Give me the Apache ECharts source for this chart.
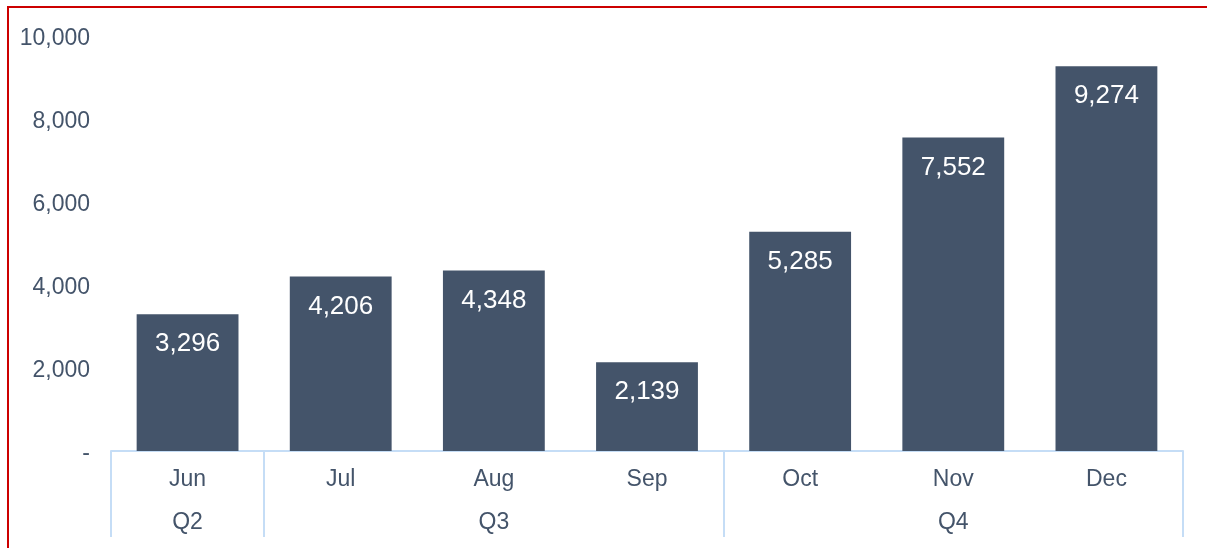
<!DOCTYPE html>
<html>
<head>
<meta charset="utf-8">
<script src="https://cdn.jsdelivr.net/npm/echarts@6/dist/echarts.min.js"></script>
<style>
html,body{margin:0;padding:0;overflow:hidden;background:#fff;}
#frame{position:absolute;left:7px;top:6px;width:1220px;height:560px;border:2px solid #CC0000;box-sizing:border-box;z-index:5;pointer-events:none;}
#chart{position:absolute;left:0;top:0;width:1207px;height:548px;}
</style>
</head>
<body>
<div id="chart"></div>
<div id="frame"></div>
<script>
const months = ['Jun','Jul','Aug','Sep','Oct','Nov','Dec'];
const values = [3296, 4206, 4348, 2139, 5285, 7552, 9274];
const quarters = ['Q2','Q3','Q4'];
const quarterCenters = [0.5, 2.5, 5.5];
const quarterBounds = [0, 1, 4, 7];

const textColor = '#44546A';
const lineColor = '#C5DDF6';
const font = 'Liberation Sans, Arial, sans-serif';

const chart = echarts.init(document.getElementById('chart'), null, {renderer:'canvas'});
chart.setOption({
  animation:false,
  grid:{left:111, right:24, top:36, bottom:97, containLabel:false},
  xAxis:[{
    type:'category',
    data:months,
    position:'bottom',
    axisLine:{show:true, lineStyle:{color:lineColor, width:2}},
    axisTick:{show:false},
    axisLabel:{color:textColor, fontSize:23, fontFamily:font, margin:17}
  },{
    type:'value',
    min:0, max:quarterBounds[quarterBounds.length-1],
    position:'bottom',
    axisLine:{show:false},
    splitLine:{show:false},
    axisTick:{show:true, customValues:quarterBounds, length:86, lineStyle:{color:lineColor, width:2}},
    axisLabel:{show:true, customValues:quarterCenters, margin:60, color:textColor, fontSize:23, fontFamily:font,
      formatter:function(v){ const i = quarterCenters.indexOf(v); return i>=0 ? quarters[i] : ''; }}
  }],
  yAxis:{
    type:'value',
    min:0, max:10000, interval:2000,
    axisLine:{show:false},
    axisTick:{show:false},
    splitLine:{show:false},
    axisLabel:{margin:21,
      formatter:function(v){ return '{t|' + (v===0 ? '-' : v.toLocaleString('en-US')) + '}'; },
      rich:{t:{color:textColor, fontSize:23, fontFamily:font, padding:[5,0,0,0]}}}
  },
  series:[{
    type:'bar',
    xAxisIndex:0,
    data:values,
    barWidth:'66.5%',
    itemStyle:{color:'#44546A'},
    label:{show:true, position:'insideTop', distance:17, color:'#ffffff', fontSize:26, fontFamily:font,
      formatter:function(p){ return p.value.toLocaleString('en-US'); }}
  }]
});
</script>
</body>
</html>
